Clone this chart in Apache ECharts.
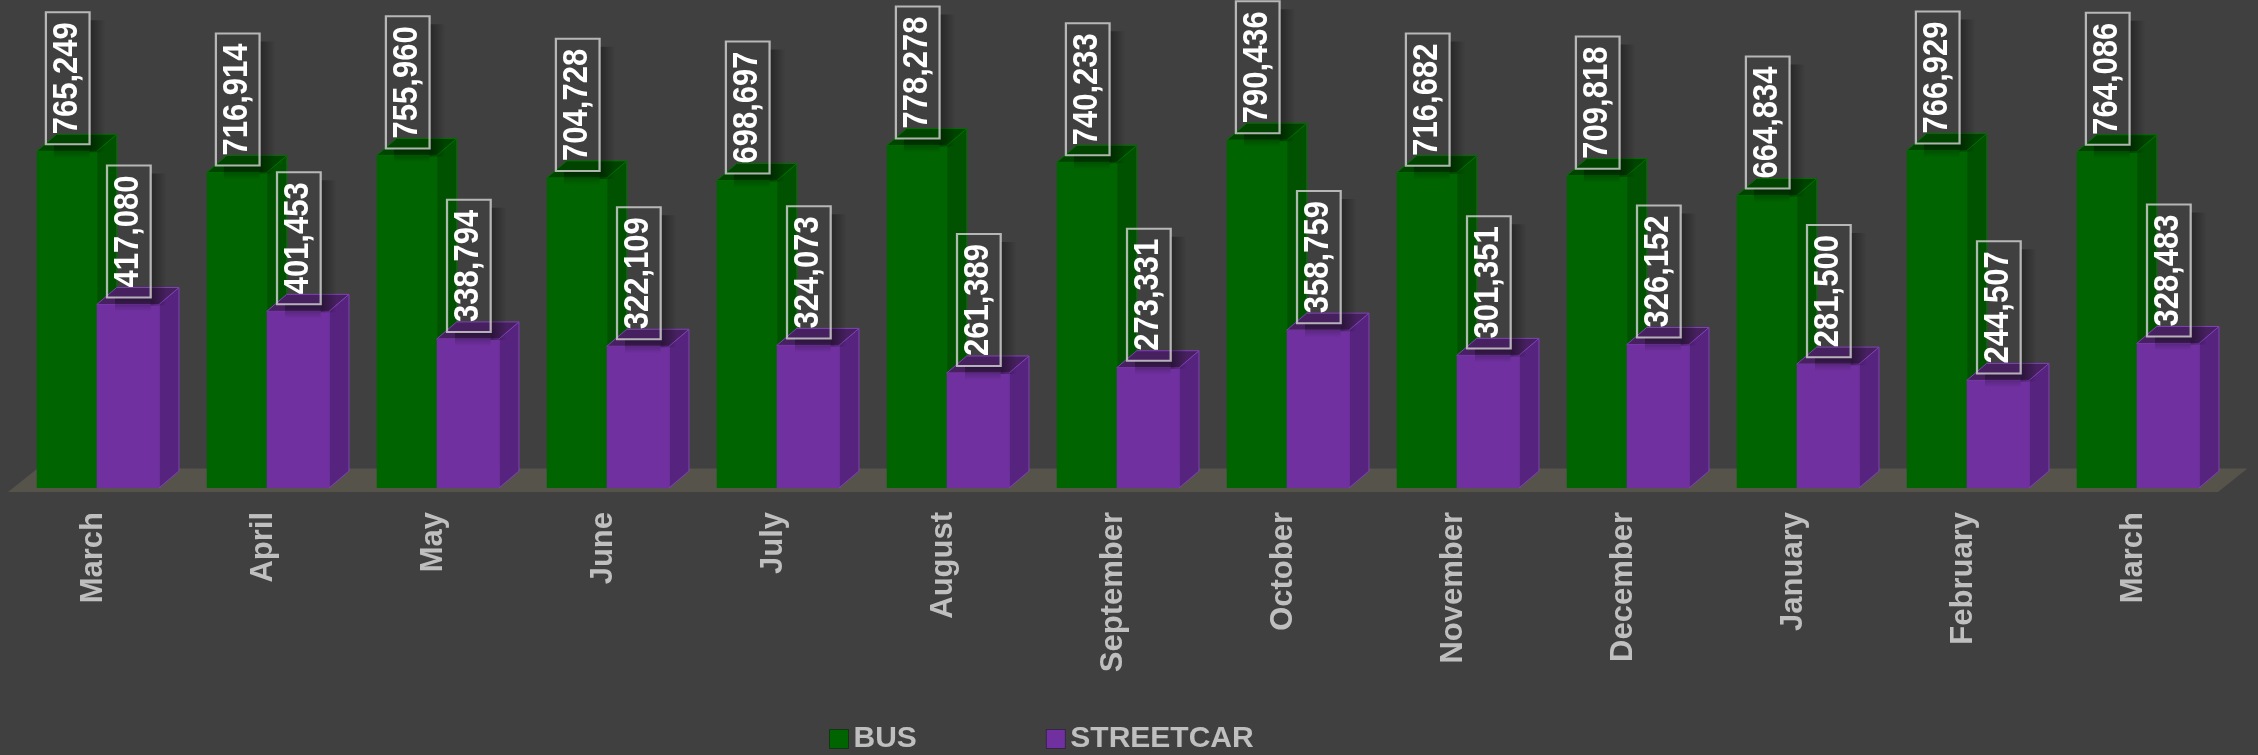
<!DOCTYPE html>
<html><head><meta charset="utf-8">
<script src="https://cdn.jsdelivr.net/npm/echarts@6/dist/echarts.min.js"></script>
<style>html,body{margin:0;padding:0;background:#404040;} #c{width:2258px;height:755px;}</style>
</head><body><div id="c"></div>
<script>
const months = ['March','April','May','June','July','August','September','October','November','December','January','February','March'];
const bus = [765249, 716914, 755960, 704728, 698697, 778278, 740233, 790436, 716682, 709818, 664834, 766929, 764086];
const streetcar = [417080, 401453, 338794, 322109, 324073, 261389, 273331, 358759, 301351, 326152, 281500, 244507, 328483];
const seriesNames = ['BUS', 'STREETCAR'];

const FONT = '"Liberation Sans", Arial, sans-serif';
const colors = {
  BUS: {front: '#006400', side: '#005200', top: '#004400', edge: '#007000'},
  STREETCAR: {front: '#7030a0', side: '#56237f', top: '#46205f', edge: '#8040b8'}
};
const GEOM = {BUS: [-0.331, 0.022], STREETCAR: [0.022, 0.388]};
const DEPTH_X = 0.1176, DEPTH_Y = 0.1;
const LABEL_SCALE = 1.12;

const measureCtx = document.createElement('canvas').getContext('2d');
function textWidth(t, font) { measureCtx.font = font; return measureCtx.measureText(t).width; }

function geom(name, api) {
  const idx = api.value(0), val = api.value(1);
  const base = api.coord([idx, 0]);
  const topY = api.coord([idx, val])[1];
  const bw = api.size([1, 0])[0];
  const g = GEOM[name];
  return {val, bw, x0: base[0] + g[0] * bw, x1: base[0] + g[1] * bw, by: base[1], topY,
          dx: DEPTH_X * bw, dy: -DEPTH_Y * bw};
}

function barRender(name) {
  return function (params, api) {
    const g = geom(name, api), c = colors[name];
    return {type: 'group', children: [
      {type: 'polygon', shape: {points: [[g.x1, g.topY], [g.x1 + g.dx, g.topY + g.dy], [g.x1 + g.dx, g.by + g.dy], [g.x1, g.by]]},
       style: {fill: c.side, stroke: c.edge, lineWidth: 1}},
      {type: 'polygon', shape: {points: [[g.x0, g.topY], [g.x0 + g.dx, g.topY + g.dy], [g.x1 + g.dx, g.topY + g.dy], [g.x1, g.topY]]},
       style: {fill: c.top, stroke: c.edge, lineWidth: 1}},
      {type: 'rect', shape: {x: g.x0, y: g.topY, width: g.x1 - g.x0, height: g.by - g.topY}, style: {fill: c.front}}
    ]};
  };
}

function labelRender(name) {
  return function (params, api) {
    const g = geom(name, api);
    const ax = (g.x0 + g.x1) / 2 + 1, ay = g.topY - 7;
    const txt = g.val.toLocaleString('en-US');
    const font = 'bold 31px ' + FONT;
    const boxH = textWidth(txt, font) + 20, boxW = 39 * LABEL_SCALE;
    const left = ax - boxW / 2, right = ax + boxW / 2, top = ay - boxH;
    return {type: 'group', children: [
      {type: 'rect', shape: {x: right, y: top + 8, width: 16, height: boxH},
       style: {fill: new echarts.graphic.LinearGradient(0, 0, 1, 0, [{offset: 0, color: 'rgba(0,0,0,0.4)'}, {offset: 1, color: 'rgba(0,0,0,0)'}])}},
      {type: 'rect', shape: {x: left + 8, y: ay, width: boxW - 8, height: 14},
       style: {fill: new echarts.graphic.LinearGradient(0, 0, 0, 1, [{offset: 0, color: 'rgba(0,0,0,0.4)'}, {offset: 1, color: 'rgba(0,0,0,0)'}])}},
      {type: 'text', x: ax, y: ay, rotation: Math.PI / 2, scaleY: LABEL_SCALE,
       style: {text: txt, x: 0, y: 0, fill: '#ffffff', fontSize: 31, fontWeight: 'bold', fontFamily: FONT,
               align: 'left', verticalAlign: 'middle', lineHeight: 31, padding: [4, 10, 4, 10],
               borderColor: 'rgba(205,205,205,0.85)', borderWidth: 2}}
    ]};
  };
}

function floorRender(params, api) {
  const cs = params.coordSys;
  const bw = api.size([1, 0])[0];
  const fy = cs.y + cs.height + 4, byy = fy - 0.138 * bw;
  const d = 0.1735 * bw;
  return {type: 'polygon', shape: {points: [[cs.x, fy], [cs.x + d, byy], [cs.x + cs.width + d, byy], [cs.x + cs.width, fy]]},
          style: {fill: '#56534b'}};
}

const toData = arr => arr.map((v, i) => [i, v]);
const values = {BUS: bus, STREETCAR: streetcar};

const series = [
  {type: 'custom', name: 'floor', renderItem: floorRender, data: [[0, 0]], silent: true, z: 1, clip: false}
];
seriesNames.forEach(n => series.push({type: 'custom', name: n, renderItem: barRender(n), data: toData(values[n]),
  itemStyle: {color: colors[n].front}, z: 2, clip: false}));
seriesNames.forEach(n => series.push({type: 'custom', name: n, renderItem: labelRender(n), data: toData(values[n]),
  itemStyle: {color: colors[n].front}, z: 3, clip: false, silent: true}));

const chart = echarts.init(document.getElementById('c'));
chart.setOption({
  backgroundColor: '#404040',
  animation: false,
  grid: {left: 8, top: 48, width: 2210, height: 440},
  legend: {
    left: 829, top: 724, padding: 0, itemWidth: 19, itemHeight: 19, itemGap: 129, icon: 'rect',
    textStyle: {color: '#bfbfbf', fontSize: 30, fontWeight: 'bold', fontFamily: FONT, lineHeight: 30},
    data: seriesNames.map(n => ({name: n, itemStyle: {color: colors[n].front, borderColor: 'rgba(0,0,0,0.35)', borderWidth: 1}}))
  },
  xAxis: {
    type: 'category', data: months,
    axisLine: {show: false}, axisTick: {show: false},
    axisLabel: {interval: 0, rotate: 90, margin: 24, color: '#bfbfbf', fontSize: 31, fontWeight: 'bold', fontFamily: FONT}
  },
  yAxis: {type: 'value', min: 0, max: 1000000, show: false, splitLine: {show: false}},
  series: series
});
</script>
</body></html>
